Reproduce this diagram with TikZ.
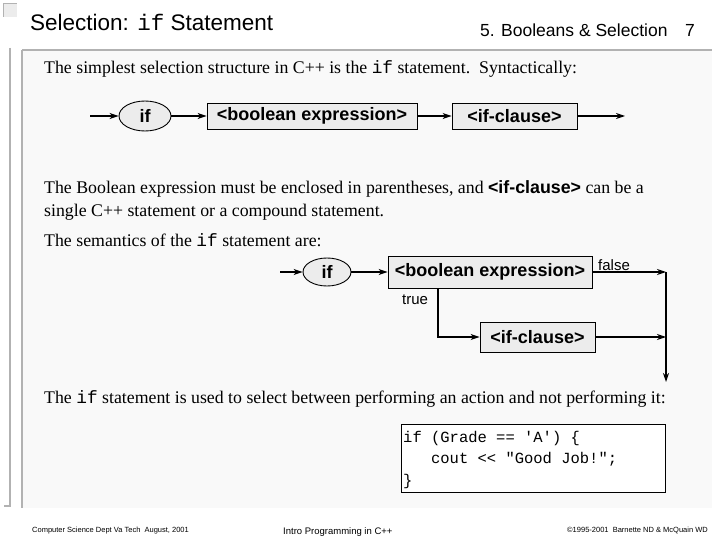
\documentclass[tikz,border=0pt]{standalone}
\usepackage{fontspec}
\setmainfont{Liberation Serif}
\setsansfont{Liberation Sans}
\setmonofont{Liberation Mono}
\usetikzlibrary{arrows.meta,shapes.geometric}
\begin{document}
\begin{tikzpicture}[x=1pt,y=-1pt,
  fl/.style={-{Stealth[length=9pt,width=6pt]},line width=1.2pt},
  ov/.style={ellipse,draw,line width=0.9pt,fill=gray!15,inner sep=1pt,font=\sffamily\bfseries\fontsize{18}{20}\selectfont},
  bx/.style={draw,line width=0.9pt,fill=gray!15,inner sep=4pt,font=\sffamily\bfseries\fontsize{18}{20}\selectfont},
  body/.style={anchor=base west,inner sep=0pt,font=\fontsize{17.8}{20}\selectfont},
  lab/.style={anchor=base west,inner sep=0pt,font=\sffamily\fontsize{15}{17}\selectfont}]
\useasboundingbox (0,0) rectangle (720,540);
\fill[white] (0,0) rectangle (720,540);
\fill[gray!5] (22,50) rectangle (712,508);
\draw[gray!60,line width=1.5pt] (22,50) -- (712,50);
\draw[gray!60,line width=1.5pt] (22,50) -- (22,508);
\draw[gray!60,line width=1.2pt] (10,48) -- (10,506) -- (4,506);
\fill[gray!15] (3,3) rectangle (17,17);
\draw[gray!60] (3,17) -- (3,3) -- (17,3);
\node[anchor=base west,inner sep=0pt,font=\sffamily\fontsize{22.5}{24}\selectfont] (title) at (30,31) {Selection: {\ttfamily if} Statement};
\node[anchor=base east,inner sep=0pt,font=\sffamily\fontsize{17.5}{19}\selectfont] (chap) at (695,37) {5. Booleans \& Selection\quad 7};
\node[body] (t1) at (44,74) {The simplest selection structure in C++ is the {\ttfamily if} statement.\ \ Syntactically:};
% syntax diagram
\coordinate (s0) at (90,116);
\node[ov,minimum width=52pt,minimum height=30pt] (if1) at (145,116) {if};
\node[bx,minimum width=210pt,minimum height=26pt] (be1) at (312,116) {<boolean expression>};
\node[bx,minimum width=125pt,minimum height=26pt] (ic1) at (514.5,116) {<if-clause>};
\coordinate (s1) at (625,116);
\draw[fl] (s0) -- (if1);
\draw[fl] (if1) -- (be1);
\draw[fl] (be1) -- (ic1);
\draw[fl] (ic1) -- (s1);
\node[body] (t2) at (44,194) {The Boolean expression must be enclosed in parentheses, and {\sffamily\bfseries <if-clause>} can be a};
\node[body] (t3) at (44,217) {single C++ statement or a compound statement.};
\node[body] (t4) at (44,247) {The semantics of the {\ttfamily if} statement are:};
% semantics diagram
\coordinate (u0) at (280,272);
\node[ov,minimum width=48pt,minimum height=28pt] (if2) at (327,272) {if};
\node[bx,minimum width=204pt,minimum height=32pt] (be2) at (490,272) {<boolean expression>};
\node[bx,minimum width=115pt,minimum height=30pt] (ic2) at (537.5,337) {<if-clause>};
\coordinate (rf) at (666,272);
\coordinate (ri) at (666,337);
\coordinate (rend) at (666,382);
\coordinate (tc) at (438,337);
\draw[fl] (u0) -- (if2);
\draw[fl] (if2) -- (be2);
\draw[fl] (be2.east) -- (rf);
\draw[fl] (be2.south -| tc) -- (tc) -- (ic2);
\draw[fl] (ic2) -- (ri);
\draw[fl] (rf) -- (rend);
\node[lab] (fl) at (598,270) {false};
\node[lab] (tl) at (402,304) {true};
\node[body] (t5) at (44,403) {The {\ttfamily if} statement is used to select between performing an action and not performing it:};
% code box
\node[draw,line width=0.8pt,fill=white,minimum width=264pt,minimum height=68pt] (code) at (533,458) {};
\node[anchor=base west,inner sep=0pt,font=\ttfamily\fontsize{15.5}{17}\selectfont] (c1) at (403,442) {if (Grade == 'A') \{};
\node[anchor=base west,inner sep=0pt,font=\ttfamily\fontsize{15.5}{17}\selectfont] (c2) at (403,463) {\ \ \ cout << "Good Job!";};
\node[anchor=base west,inner sep=0pt,font=\ttfamily\fontsize{15.5}{17}\selectfont] (c3) at (403,485) {\}};
% footer
\node[anchor=base west,inner sep=0pt,font=\sffamily\fontsize{7.5}{9}\selectfont] (f1) at (32,532) {Computer Science Dept Va Tech\ \ August, 2001};
\node[anchor=base west,inner sep=0pt,font=\sffamily\fontsize{9.5}{11}\selectfont] (f2) at (283,534) {Intro Programming in C++};
\node[anchor=base east,inner sep=0pt,font=\sffamily\fontsize{7.5}{9}\selectfont] (f3) at (708,532) {\textcopyright 1995-2001\ \ Barnette ND \& McQuain WD};
\end{tikzpicture}
\end{document}
